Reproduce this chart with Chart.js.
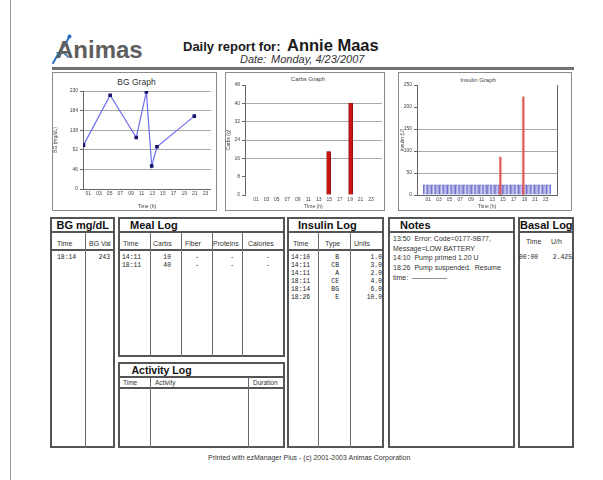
<!DOCTYPE html>
<html><head><meta charset="utf-8">
<script src="https://cdn.jsdelivr.net/npm/chart.js@4.4.1/dist/chart.umd.min.js"></script>
<style>
html,body{margin:0;padding:0;background:#fff;}
#page{position:relative;width:603px;height:480px;overflow:hidden;font-family:"Liberation Sans",Arial,sans-serif;color:#222;}
.abs{position:absolute;white-space:pre;line-height:1;}
.ln{position:absolute;background:#5a5a5a;}
canvas{position:absolute;}
</style></head><body><div id="page"></div>
<script>
// ---------- data ----------
const hourTicks = [1,3,5,7,9,11,13,15,17,19,21,23];
const bgTimes  = [0.1, 5.1, 10.0, 11.9, 12.9, 13.9, 20.9];
const bgValues = [103, 220, 121, 228, 54, 99, 171];
const bgTicks  = [0, 46, 92, 138, 184, 230];
const carbTimes  = [14.9, 19.1];
const carbValues = [19, 40];
const carbTicks  = [0, 8, 16, 24, 32, 40, 48];
const bolusTimes  = [14.5, 18.8];
const bolusValues = [86, 223];
const basalTimes  = [0.25,0.75,1.25,1.75,2.25,2.75,3.25,3.75,4.25,4.75,5.25,5.75,6.25,6.75,7.25,7.75,8.25,8.75,9.25,9.75,10.25,10.75,11.25,11.75,12.25,12.75,13.25,13.75,14.25,14.75,15.25,15.75,16.25,16.75,17.25,17.75,18.25,18.75,19.25,19.75,20.25,20.75,21.25,21.75,22.25,22.75,23.25,23.75];
const basalValues = [23,23,23,23,23,23,23,23,23,23,23,23,23,23,23,23,23,23,23,23,23,23,23,23,23,23,23,23,23,23,23,23,23,23,23,23,23,23,23,23,23,23,23,23,23,23,23,23];
const insulinTicks = [0, 50, 100, 150, 200, 250];

const bgLogRows = [["18:14","243"]];
const mealRows = [["14:11","10","-","-","-"],["18:11","40","-","-","-"]];
const insulinRows = [["14:10","B","1.0"],["14:11","CB","3.0"],["14:11","A","2.0"],["18:11","CE","4.0"],["18:14","BG","6.0"],["18:26","E","10.0"]];
const basalRows = [["00:00","2.425"]];
const notesLines = ["13:50  Error: Code=0177-9B77,","Message=LOW BATTERY","14:10  Pump primed 1.20 U","18:26  Pump suspended.  Resume","time:  \u2014\u2014\u2014\u2014\u2014"];

// ---------- helpers ----------
const page = document.getElementById('page');
const SANS = '"Liberation Sans",Arial,sans-serif';
const MONO = '"Liberation Mono","DejaVu Sans Mono",monospace';
const MS = 6.4;
function T(x, cy, s, size, o) {
  o = o || {};
  const d = document.createElement('div');
  d.className = 'abs';
  d.textContent = s;
  d.style.fontSize = size + 'px';
  d.style.fontFamily = o.font || SANS;
  if (o.bold) d.style.fontWeight = 'bold';
  if (o.italic) d.style.fontStyle = 'italic';
  d.style.color = o.color || '#222';
  d.style.top = (cy - size / 2) + 'px';
  d.style.left = x + 'px';
  if (o.align === 'right') d.style.transform = 'translateX(-100%)';
  if (o.align === 'center') d.style.transform = 'translateX(-50%)';
  page.appendChild(d);
  return d;
}
function L(x, y, w, h, c) {
  const d = document.createElement('div');
  d.className = 'ln';
  d.style.left = x + 'px'; d.style.top = y + 'px';
  d.style.width = w + 'px'; d.style.height = h + 'px';
  if (c) d.style.background = c;
  page.appendChild(d);
}
function R(x1, y1, x2, y2, t, c) {
  L(x1, y1, x2 - x1, t, c); L(x1, y2 - t, x2 - x1, t, c);
  L(x1, y1, t, y2 - y1, c); L(x2 - t, y1, t, y2 - y1, c);
}
function C(x, y, w, h) {
  const c = document.createElement('canvas');
  c.width = w; c.height = h;
  c.style.left = x + 'px'; c.style.top = y + 'px';
  page.appendChild(c);
  return c;
}

// ---------- page furniture ----------
L(10, 0, 1, 480, '#999');

const svgNS = 'http://www.w3.org/2000/svg';
const svg = document.createElementNS(svgNS, 'svg');
svg.setAttribute('width', '30'); svg.setAttribute('height', '34');
svg.style.position = 'absolute'; svg.style.left = '48px'; svg.style.top = '32px';
svg.innerHTML = '<path d="M5 31 L12 19 L17 13 L21 5" stroke="#2a6fc0" stroke-width="2" fill="none" stroke-linecap="round"/><path d="M9 21 L16 21 L20 25" stroke="#2a6fc0" stroke-width="1.6" fill="none" stroke-linecap="round"/><circle cx="21.5" cy="4.5" r="2" fill="#2a6fc0"/>';
page.appendChild(svg);
T(56, 50, 'Animas', 24, {bold: true, color: '#5e5e5e'});

T(183, 46, 'Daily report for:', 13, {bold: true, color: '#1a1a1a'});
T(287, 45, 'Annie Maas', 16.5, {bold: true, color: '#1a1a1a'});
T(240, 59, 'Date:', 11, {italic: true, color: '#333'});
T(271, 59, 'Monday, 4/23/2007', 11, {italic: true, color: '#333'});
L(52, 67, 522, 3, '#707070');

R(52, 72, 217, 211, 1, '#8a8a8a');
R(225, 72, 385, 211, 1, '#8a8a8a');
R(398, 72, 572, 211, 1, '#8a8a8a');
T(136.5, 82, 'BG Graph', 8.5, {align: 'center', color: '#333'});
T(308, 78.5, 'Carbs Graph', 6, {align: 'center', color: '#444'});
T(478, 80, 'Insulin Graph', 6, {align: 'center', color: '#444'});

// ---------- tables ----------
const TOP = 217, HB = 233, SB = 251, BOT = 448;
const BC = '#555', CC = '#6a6a6a';
function logBox(x1, x2, y1, y2, title, hb, sb, tx, fs) {
  R(x1, y1, x2, y2, 2, BC);
  L(x1, hb - 2, x2 - x1, 2, BC);
  if (sb) L(x1, sb - 2, x2 - x1, 2, BC);
  T(tx, (y1 + hb) / 2 + 0.5, title, fs, {bold: true, color: '#111'});
}
// BG
logBox(50, 115, TOP, BOT, 'BG mg/dL', HB, SB, 56.5, 11);
L(85, HB, 1, BOT - HB, CC);
T(57, 243, 'Time', 7, {color: '#333'}); T(89, 243, 'BG Val', 7, {color: '#333'});
bgLogRows.forEach((r, i) => { const y = 258 + i * 8; T(57, y, r[0], MS, {font: MONO}); T(110, y, r[1], MS, {font: MONO, align: 'right'}); });
// Meal
logBox(118, 285, TOP, 357, 'Meal Log', HB, SB, 130, 11);
[150, 181, 212, 242].forEach(x => L(x, HB, 1, 357 - HB, CC));
T(123, 243, 'Time', 7, {color: '#333'}); T(153, 243, 'Carbs', 7, {color: '#333'}); T(185, 243, 'Fiber', 7, {color: '#333'});
T(213, 243, 'Proteins', 7, {color: '#333'}); T(248, 243, 'Calories', 7, {color: '#333'});
mealRows.forEach((r, i) => {
  const y = 258 + i * 8.5;
  T(122, y, r[0], MS, {font: MONO}); T(171, y, r[1], MS, {font: MONO, align: 'right'});
  T(199, y, r[2], MS, {font: MONO, align: 'right'}); T(234, y, r[3], MS, {font: MONO, align: 'right'}); T(270, y, r[4], MS, {font: MONO, align: 'right'});
});
// Activity
logBox(118, 285, 362, BOT, 'Activity Log', 378, 389, 131.5, 10.5);
[150, 248].forEach(x => L(x, 378, 1, BOT - 378, CC));
T(123, 383.5, 'Time', 6.5, {color: '#333'}); T(155, 383.5, 'Activity', 6.5, {color: '#333'}); T(253, 383.5, 'Duration', 6.5, {color: '#333'});
// Insulin
logBox(287, 384, TOP, BOT, 'Insulin Log', HB, SB, 298, 11);
[318, 350].forEach(x => L(x, HB, 1, BOT - HB, CC));
T(293, 243, 'Time', 7, {color: '#333'}); T(325, 243, 'Type', 7, {color: '#333'}); T(354, 243, 'Units', 7, {color: '#333'});
insulinRows.forEach((r, i) => {
  const y = 258 + i * 8;
  T(291, y, r[0], MS, {font: MONO}); T(339, y, r[1], MS, {font: MONO, align: 'right'}); T(382, y, r[2], MS, {font: MONO, align: 'right'});
});
// Notes
logBox(388, 515, TOP, BOT, 'Notes', HB, 0, 400, 11);
notesLines.forEach((s, i) => T(393, 238.5 + i * 9.7, s, 7, {color: '#333'}));
// Basal
logBox(518, 574, TOP, BOT, 'Basal Log', HB, 0, 520, 11);
T(526, 241.5, 'Time', 7, {color: '#333'}); T(551, 241.5, 'U/h', 7, {color: '#333'});
basalRows.forEach((r, i) => { const y = 258 + i * 8; T(519, y, r[0], MS, {font: MONO}); T(572, y, r[1], MS, {font: MONO, align: 'right'}); });

T(208, 457, 'Printed with ezManager Plus - (c) 2001-2003 Animas Corporation', 7, {color: '#333'});

// ---------- charts ----------
Chart.defaults.font.family = SANS;
Chart.defaults.color = '#333';
const base = {responsive: false, animation: false, devicePixelRatio: 1, events: [],
  plugins: {legend: {display: false}, tooltip: {enabled: false}, title: {display: false}}};
function pad2(v) { return String(v).padStart(2, '0'); }
function xScale(h, showBorder) {
  return {type: 'linear', min: 0, max: 24,
    afterBuildTicks: s => { s.ticks = hourTicks.map(v => ({value: v})); },
    ticks: {callback: v => pad2(v), font: {size: 5}, color: '#444', padding: 2, maxRotation: 0, autoSkip: false},
    grid: {display: false, drawTicks: false}, border: {display: showBorder !== false, color: '#666'},
    title: {display: true, text: 'Time (h)', font: {size: 5}, color: '#444', padding: 0},
    afterFit: s => { s.height = h; }};
}
function yScale(max, ticks, w, title, gridVals) {
  return {min: 0, max: max,
    afterBuildTicks: s => { s.ticks = ticks.map(v => ({value: v})); },
    ticks: {font: {size: 5}, color: '#444', padding: 2},
    grid: {color: c => (!gridVals || gridVals.includes(c.tick.value)) ? '#a8a8a8' : 'rgba(0,0,0,0)', tickColor: '#666', tickLength: 3},
    border: {color: '#666'},
    title: {display: true, text: title, font: {size: 5}, color: '#444', padding: 0},
    afterFit: s => { s.width = w; }};
}

new Chart(C(53, 73, 163, 137), {
  type: 'line',
  data: {datasets: [{data: bgTimes.map((t, i) => ({x: t, y: bgValues[i]})),
    borderColor: '#6d6df0', borderWidth: 1.2, pointStyle: 'rect', pointRadius: 1.7,
    pointBackgroundColor: '#15156a', pointBorderColor: '#15156a', tension: 0}]},
  options: Object.assign({}, base, {
    layout: {padding: {top: 18, right: 2, left: 0, bottom: 0}},
    scales: {x: xScale(21), y: yScale(230, bgTicks, 30, 'BG (mg/dL)')}})
});

new Chart(C(226, 73, 158, 137), {
  type: 'bar',
  data: {datasets: [{data: carbTimes.map((t, i) => ({x: t, y: carbValues[i]})),
    backgroundColor: '#c81414', borderColor: '#7a0a0a', borderWidth: 0.6, barThickness: 4}]},
  options: Object.assign({}, base, {
    layout: {padding: {top: 12, right: 2, left: 0, bottom: 0}},
    scales: {x: xScale(15, false), y: yScale(48, carbTicks, 19, 'Carbs (g)', [16, 24, 32, 40])}})
});

new Chart(C(400, 73, 167, 137), {
  type: 'bar',
  data: {datasets: [
    {data: bolusTimes.map((t, i) => ({x: t, y: bolusValues[i]})), backgroundColor: '#e05a5a', barThickness: 1.6, grouped: false, order: 0},
    {data: basalTimes.map((t, i) => ({x: t, y: basalValues[i]})), backgroundColor: 'rgba(225,225,250,0.6)', borderColor: '#5858c8', borderWidth: 0.7, barThickness: 1.8, grouped: false, order: 1}
  ]},
  options: Object.assign({}, base, {
    layout: {padding: {top: 12, right: 10, left: 0, bottom: 0}},
    scales: {x: xScale(15), y: yScale(250, insulinTicks, 17, 'Insulin (U)', [50, 100, 150]),
      y2: {position: 'right', min: 0, max: 250, ticks: {display: false}, grid: {display: false}, border: {color: '#666'}, afterFit: s => { s.width = 0; }}}})
});
</script></body></html>
